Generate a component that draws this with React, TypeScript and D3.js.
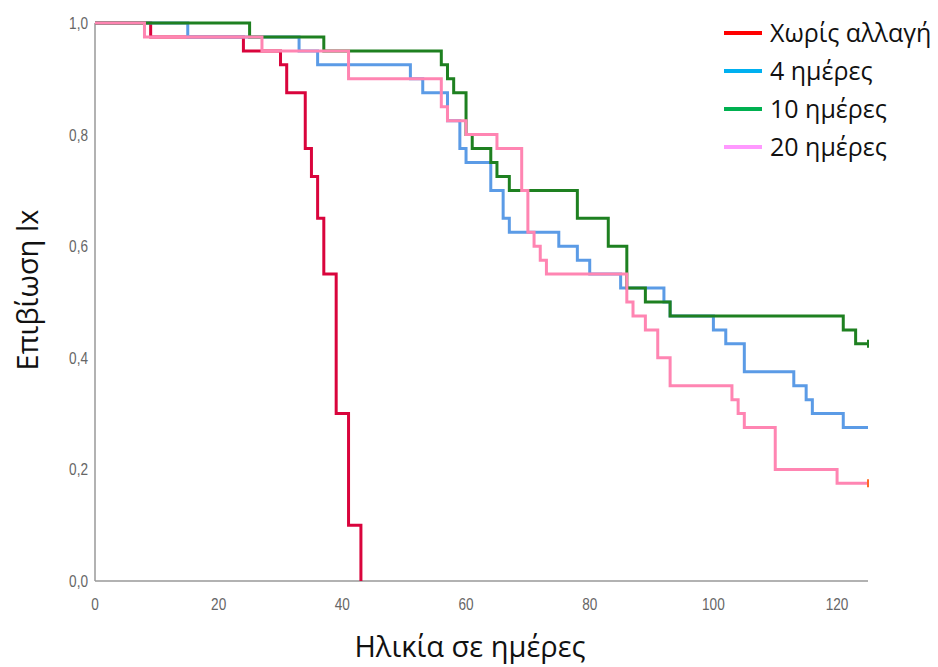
import React, { useEffect, useRef } from "react";
import * as d3 from "d3";

// Kaplan-Meier steps (day, survival lx)
const redTimes = [0, 9, 24, 30, 31, 34, 35, 36, 37, 39, 41, 43];
const redSurv = [1, 0.975, 0.95, 0.925, 0.875, 0.775, 0.725, 0.65, 0.55, 0.3, 0.1, 0];

const blueTimes = [0, 15, 33, 36, 51, 53, 57, 59, 60, 64, 66, 67, 75, 78, 80, 85, 92, 93, 100, 102, 105, 113, 115, 116, 121, 125];
const blueSurv = [1, 0.975, 0.95, 0.925, 0.9, 0.875, 0.825, 0.775, 0.75, 0.7, 0.65, 0.625, 0.6, 0.575, 0.55, 0.525, 0.5, 0.475, 0.45, 0.425, 0.375, 0.35, 0.325, 0.3, 0.275, 0.275];

const greenTimes = [0, 25, 37, 56, 57, 58, 60, 61, 64, 65, 67, 78, 83, 86, 89, 93, 121, 123, 125];
const greenSurv = [1, 0.975, 0.95, 0.925, 0.9, 0.875, 0.8, 0.775, 0.75, 0.725, 0.7, 0.65, 0.6, 0.525, 0.5, 0.475, 0.45, 0.425, 0.425];

const pinkTimes = [0, 8, 27, 41, 56, 57, 60, 65, 69, 70, 71, 72, 73, 86, 87, 89, 91, 93, 103, 104, 105, 110, 120, 125];
const pinkSurv = [1, 0.975, 0.95, 0.9, 0.85, 0.825, 0.8, 0.775, 0.7, 0.625, 0.6, 0.575, 0.55, 0.5, 0.475, 0.45, 0.4, 0.35, 0.325, 0.3, 0.275, 0.2, 0.175, 0.175];

const xTicks = [0, 20, 40, 60, 80, 100, 120];
const yTicks = [0, 0.2, 0.4, 0.6, 0.8, 1.0];

const legendLabels = ["Χωρίς αλλαγή", "4 ημέρες", "10 ημέρες", "20 ημέρες"];
const legendColors = ["#ff0000", "#00b0f0", "#00b050", "#ff99ff"];

const App = () => {
  const svgRef = useRef(null);

  useEffect(() => {
    const svg = d3.select(svgRef.current);
    svg.selectAll("*").remove();

    const x = d3.scaleLinear().domain([0, 125]).range([95, 868]);
    const y = d3.scaleLinear().domain([0, 1]).range([581, 23]);

    // axes (plain grey lines, no tick marks)
    svg.append("line").attr("x1", x(0)).attr("x2", x(0)).attr("y1", y(1)).attr("y2", y(0))
      .attr("stroke", "#999").attr("stroke-width", 1.5);
    svg.append("line").attr("x1", x(0)).attr("x2", x(125)).attr("y1", y(0)).attr("y2", y(0))
      .attr("stroke", "#999").attr("stroke-width", 1.5);

    const tickFont = "'Liberation Sans Narrow', 'Liberation Sans', Arial, sans-serif";
    svg.selectAll(".xt").data(xTicks).enter().append("text")
      .attr("x", (d) => x(d)).attr("y", 610)
      .attr("text-anchor", "middle")
      .attr("font-family", tickFont).attr("font-size", 16).attr("fill", "#666")
      .attr("transform", (d) => `translate(${x(d)},0) scale(0.85,1) translate(${-x(d)},0)`)
      .text((d) => d);
    svg.selectAll(".yt").data(yTicks).enter().append("text")
      .attr("x", 88).attr("y", (d) => y(d) + 6)
      .attr("text-anchor", "end")
      .attr("font-family", tickFont).attr("font-size", 16).attr("fill", "#666")
      .attr("transform", "translate(88,0) scale(0.85,1) translate(-88,0)")
      .text((d) => d.toFixed(1).replace(".", ","));

    const line = d3.line().x((d) => x(d[0])).y((d) => y(d[1])).curve(d3.curveStepAfter);

    const series = [
      { t: redTimes, s: redSurv, color: "#d9043c", tick: null },
      { t: blueTimes, s: blueSurv, color: "#5b9be6", tick: null },
      { t: greenTimes, s: greenSurv, color: "#1e8020", tick: "#1e8020" },
      { t: pinkTimes, s: pinkSurv, color: "#ff85b2", tick: "#ff6a2a" },
    ];

    series.forEach((ser) => {
      const pts = ser.t.map((t, i) => [t, ser.s[i]]);
      svg.append("path").attr("d", line(pts))
        .attr("fill", "none").attr("stroke", ser.color).attr("stroke-width", 3);
      if (ser.tick) {
        const last = pts[pts.length - 1];
        svg.append("line")
          .attr("x1", x(last[0])).attr("x2", x(last[0]))
          .attr("y1", y(last[1]) - 4).attr("y2", y(last[1]) + 4)
          .attr("stroke", ser.tick).attr("stroke-width", 2);
      }
    });

    // legend
    const lg = svg.append("g");
    legendLabels.forEach((lab, i) => {
      const yy = 33 + i * 38;
      lg.append("line").attr("x1", 724).attr("x2", 762).attr("y1", yy).attr("y2", yy)
        .attr("stroke", legendColors[i]).attr("stroke-width", 4);
      lg.append("text").attr("x", 770).attr("y", yy + 9)
        .attr("font-family", "'Open Sans', 'Noto Sans', sans-serif").attr("font-size", 25)
        .attr("fill", "#111").text(lab);
    });

    // axis titles
    svg.append("text").attr("x", 470).attr("y", 657).attr("text-anchor", "middle")
      .attr("font-family", "'Open Sans', 'Noto Sans', sans-serif").attr("font-size", 29)
      .attr("fill", "#111").text("Ηλικία σε ημέρες");
    svg.append("text").attr("transform", "translate(38,290) rotate(-90)")
      .attr("text-anchor", "middle")
      .attr("font-family", "'Open Sans', 'Noto Sans', sans-serif").attr("font-size", 29)
      .attr("fill", "#111").text("Επιβίωση lx");
  }, []);

  return (
    <svg
      ref={svgRef}
      width={938}
      height={667}
      style={{ position: "absolute", left: 0, top: 0, background: "#fff" }}
    ></svg>
  );
};

export default App;
